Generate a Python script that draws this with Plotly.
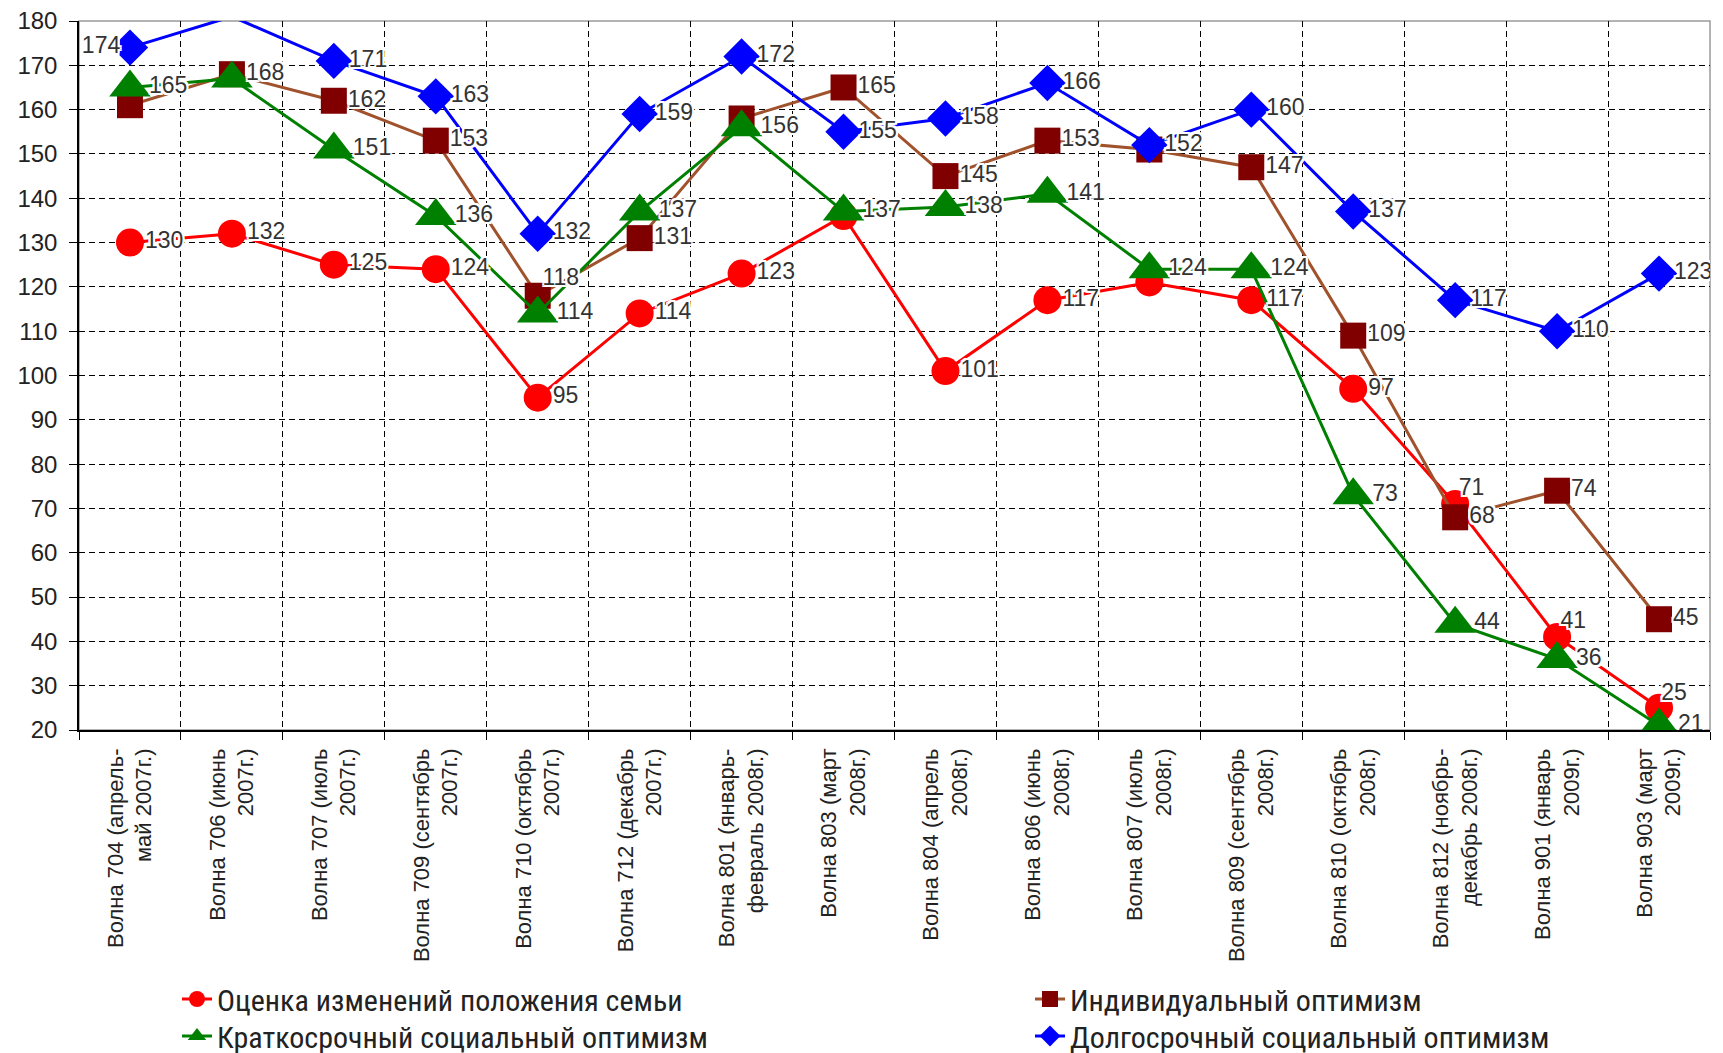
import plotly.graph_objects as go

categories = [
    "Волна 704 (апрель-<br>май 2007г.)",
    "Волна 706 (июнь<br>2007г.)",
    "Волна 707 (июль<br>2007г.)",
    "Волна 709 (сентябрь<br>2007г.)",
    "Волна 710 (октябрь<br>2007г.)",
    "Волна 712 (декабрь<br>2007г.)",
    "Волна 801 (январь-<br>февраль 2008г.)",
    "Волна 803 (март<br>2008г.)",
    "Волна 804 (апрель<br>2008г.)",
    "Волна 806 (июнь<br>2008г.)",
    "Волна 807 (июль<br>2008г.)",
    "Волна 809 (сентябрь<br>2008г.)",
    "Волна 810 (октябрь<br>2008г.)",
    "Волна 812 (ноябрь-<br>декабрь 2008г.)",
    "Волна 901 (январь<br>2009г.)",
    "Волна 903 (март<br>2009г.)",
]

family_values = [130, 132, 125, 124, 95, 114, 123, 136, 101, 117, 121, 117, 97, 71, 41, 25]
individual_values = [161, 168, 162, 153, 118, 131, 158, 165, 145, 153, 151, 147, 109, 68, 74, 45]
short_social_values = [165, 167, 151, 136, 114, 137, 156, 137, 138, 141, 124, 124, 73, 44, 36, 21]
long_social_values = [174, 181, 171, 163, 132, 159, 172, 155, 158, 166, 152, 160, 137, 117, 110, 123]

series_names = [
    "Оценка изменений положения семьи",
    "Индивидуальный оптимизм",
    "Краткосрочный социальный оптимизм",
    "Долгосрочный социальный оптимизм",
]

y_ticks = list(range(20, 181, 10))
Y_MIN, Y_MAX = 20, 180

# style config: label placement overrides by point index -> (position, offset size)
series = [
    dict(name=series_names[0], y=family_values, line="#FF0000", marker="#FF0000",
         symbol="circle", size=28, legend="legend", hide=[7, 10],
         pos={13: ("top right", 4), 14: ("top right", 4), 15: ("top right", 2)}),
    dict(name=series_names[1], y=individual_values, line="#A0522D", marker="#800000",
         symbol="square", size=26, legend="legend2", hide=[0, 6, 10],
         pos={4: ("top right", 6)}),
    dict(name=series_names[2], y=short_social_values, line="#008000", marker="#008000",
         symbol="triangle-up", size=36, legend="legend3", hide=[1],
         pos={}),
    dict(name=series_names[3], y=long_social_values, line="#0000FF", marker="#0000FF",
         symbol="diamond", size=28, legend="legend4", hide=[],
         pos={0: ("middle left", 14)}),
]

fig = go.Figure()

for s in series:
    sizes = [0 if v > Y_MAX else s["size"] for v in s["y"]]
    fig.add_trace(go.Scatter(
        x=categories, y=s["y"], name=s["name"], mode="lines+markers",
        line=dict(color=s["line"], width=3),
        marker=dict(color=s["marker"], symbol=s["symbol"], size=sizes,
                    opacity=1, line=dict(width=0)),
        legend=s["legend"], cliponaxis=True, hoverinfo="skip",
    ))

shadow = ("2px 0 0 white, -2px 0 0 white, 0 2px 0 white, 0 -2px 0 white, "
          "2px 2px 0 white, -2px -2px 0 white, 2px -2px 0 white, -2px 2px 0 white")
for s in series:
    n = len(s["y"])
    texts = ["" if (i in s["hide"] or v > Y_MAX) else str(v) for i, v in enumerate(s["y"])]
    positions = [s["pos"][i][0] if i in s["pos"] else "middle right" for i in range(n)]
    offsets = [s["pos"][i][1] if i in s["pos"] else s["size"] * 0.8 for i in range(n)]
    fig.add_trace(go.Scatter(
        x=categories, y=s["y"], mode="markers+text", text=texts,
        textposition=positions,
        textfont=dict(family="Liberation Sans, Arial, sans-serif", size=23,
                      color="#333333", shadow=shadow),
        marker=dict(size=offsets, color="rgba(0,0,0,0)", opacity=0,
                    line=dict(width=0, color="rgba(0,0,0,0)")),
        showlegend=False, cliponaxis=True, hoverinfo="skip",
    ))

# the page body adds an 8px offset on the left and top
W, H = 1723, 1053
L, R, T, B = 71, 21, 13, 331

legend_font = dict(family="Liberation Sans Narrow, Arial Narrow, Roboto Condensed, DejaVu Sans Condensed, sans-serif",
                   size=30, color="#222222")
legend_common = dict(bgcolor="rgba(0,0,0,0)", borderwidth=0, font=legend_font,
                     xanchor="left", yanchor="middle", itemsizing="trace",
                     xref="container", yref="container")

fig.update_layout(
    width=W, height=H,
    margin=dict(l=L, r=R, t=T, b=B, autoexpand=False),
    plot_bgcolor="white", paper_bgcolor="white",
    font=dict(family="Liberation Sans, Arial, sans-serif", color="#222222"),
    legend=dict(x=169 / W, y=1 - 991 / H, **legend_common),
    legend2=dict(x=1022 / W, y=1 - 991 / H, **legend_common),
    legend3=dict(x=169 / W, y=1 - 1028 / H, **legend_common),
    legend4=dict(x=1022 / W, y=1 - 1028 / H, **legend_common),
    xaxis=dict(
        type="category", range=[-0.5, len(categories) - 0.5],
        tickson="boundaries", ticks="outside", ticklen=8, tickcolor="black",
        showgrid=True, gridcolor="black", griddash="6px,4px", gridwidth=1.3,
        showline=True, linecolor="black", linewidth=1.5,
        tickangle=-90, tickfont=dict(size=22, color="#222222"),
        ticklabelstandoff=8, automargin=False, ticklabeloverflow="allow",
        zeroline=False,
    ),
    yaxis=dict(
        range=[Y_MIN, Y_MAX], tickvals=y_ticks, ticks="outside", ticklen=8,
        tickcolor="black",
        showgrid=True, gridcolor="black", griddash="6px,4px", gridwidth=1.3,
        showline=True, linecolor="black", linewidth=1.5,
        tickfont=dict(size=24, color="#222222"),
        ticklabelstandoff=7, automargin=False, ticklabeloverflow="allow",
        zeroline=False,
    ),
    shapes=[dict(type="rect", xref="paper", yref="paper", x0=0, x1=1, y0=0, y1=1,
                 line=dict(color="#9a9a9a", width=1.5), layer="below")],
)

fig.write_html("out.html")
